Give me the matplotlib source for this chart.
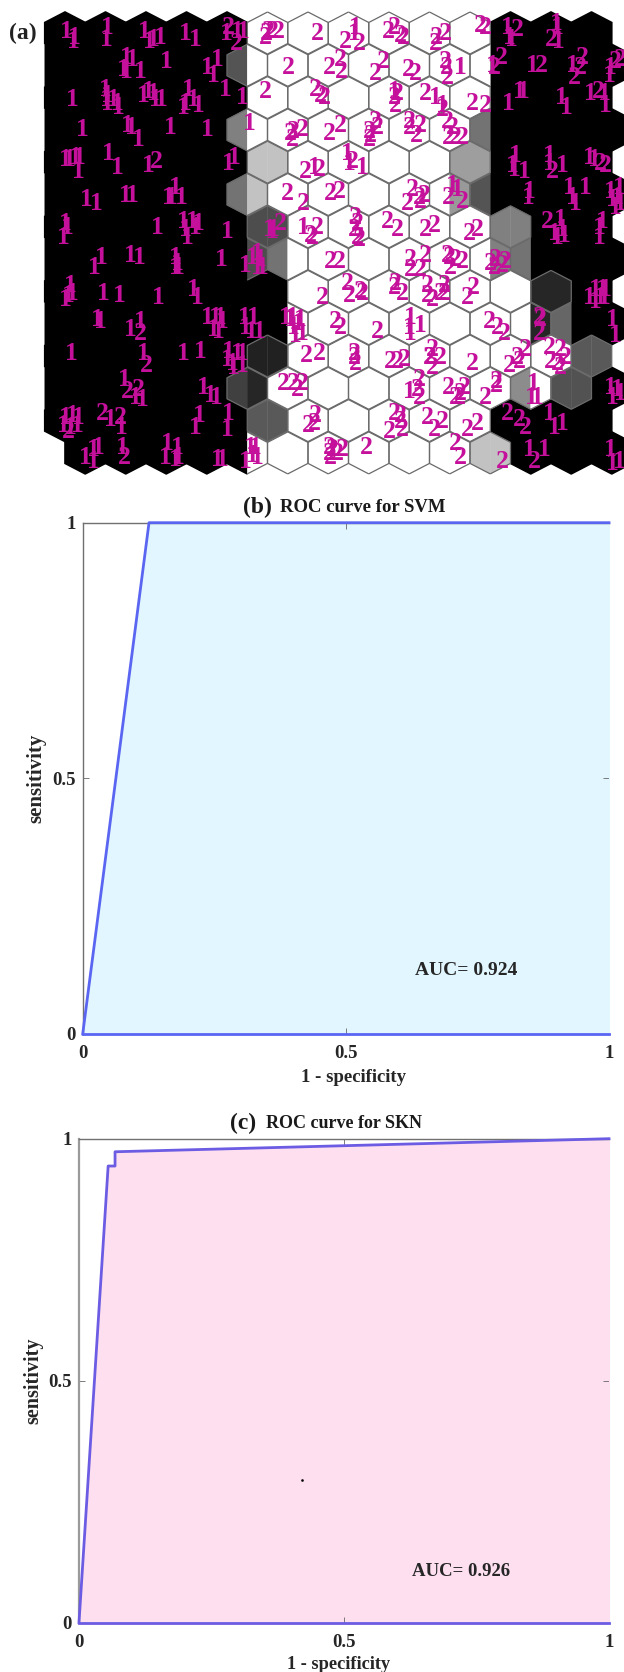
# -*- coding: utf-8 -*-
import numpy as np
import matplotlib
matplotlib.use("Agg")
from matplotlib import pyplot as plt

plt.rcParams['font.family'] = ['Liberation Serif', 'DejaVu Serif']

# SOM map (a): gray level of left / right half of every hexagon, row by row
B = 0.0
W = 1.0
left_half = [
    [B, B, B, B, B, W, W, W, W, W, W, B, B, B],
    [B, B, B, B, .33, W, W, W, W, W, W, B, B, B],
    [B, B, B, B, B, W, W, W, W, W, W, B, B, B],
    [B, B, B, B, .50, W, W, W, W, W, .45, B, B, B],
    [B, B, B, B, B, .76, W, W, W, W, .62, B, B, B],
    [B, B, B, B, .45, W, W, W, W, W, .33, B, B, B],
    [B, B, B, B, B, .30, W, W, W, W, W, .50, B, B],
    [B, B, B, B, B, .45, W, W, W, W, W, .45, B, B],
    [B, B, B, B, B, B, W, W, W, W, W, W, .15, B],
    [B, B, B, B, B, B, W, W, W, W, W, W, .40, B],
    [B, B, B, B, B, .13, W, W, W, W, W, W, W, .35],
    [B, B, B, B, .25, W, W, W, W, W, W, .55, .32, B],
    [B, B, B, B, B, .35, W, W, W, W, W, B, B, B],
    [B, B, B, B, B, W, W, W, W, W, .76, B, B, B],
]
right_half = [
    [B, B, B, B, B, W, W, W, W, W, W, B, B, B],
    [B, B, B, B, W, W, W, W, W, W, B, B, B, B],
    [B, B, B, B, B, W, W, W, W, W, W, B, B, B],
    [B, B, B, B, W, W, W, W, W, W, B, B, B, B],
    [B, B, B, B, B, .76, W, W, W, W, .62, B, B, B],
    [B, B, B, B, .76, W, W, W, W, .60, B, B, B, B],
    [B, B, B, B, B, .30, W, W, W, W, W, .50, B, B],
    [B, B, B, B, .30, W, W, W, W, W, .50, B, B, B],
    [B, B, B, B, B, B, W, W, W, W, W, W, .15, B],
    [B, B, B, B, B, W, W, W, W, W, W, .15, B, B],
    [B, B, B, B, B, .13, W, W, W, W, W, W, W, .35],
    [B, B, B, B, .15, W, W, W, W, W, W, W, .32, B],
    [B, B, B, B, B, .35, W, W, W, W, W, B, B, B],
    [B, B, B, B, W, W, W, W, W, W, .76, B, B, B],
]

# class labels on the map, position in image pixels
ones_xy = [
    (66,31),(74,37),(73,42),(107,28),(106,40),(144,32),(149,41),(153,39),(160,37),(185,33),(195,40),
    (226,33),(237,32),(243,31),(355,27),(354,33),(507,27),(509,38),(511,40),(556,23),(557,28),(558,42),
    (126,58),(132,59),(123,70),(126,71),(140,72),(166,61),(207,67),(217,60),(213,76),(460,68),(492,65),
    (532,65),(572,65),(610,67),(609,75),
    (72,100),(105,90),(107,95),(106,100),(107,103),(113,100),(117,103),(118,108),(143,95),(148,92),(153,93),
    (155,100),(161,100),(188,90),(185,103),(183,107),(193,100),(198,105),(225,89),(242,98),(394,92),(435,98),
    (442,105),(508,104),(519,92),(523,92),(561,98),(566,107),(590,93),(604,93),(605,106),
    (82,130),(127,126),(131,128),(138,140),(170,127),(207,129),(249,124),
    (65,160),(69,160),(75,157),(79,158),(78,172),(108,154),(117,168),(148,166),(228,163),(234,157),(314,167),
    (347,153),(349,163),(362,167),(515,155),(514,170),(524,172),(512,165),(549,155),(549,163),(562,166),
    (589,157),(594,160),
    (86,199),(96,204),(125,195),(132,196),(168,197),(171,197),(175,187),(181,197),(452,185),(457,190),
    (529,192),(528,197),(569,188),(572,197),(575,203),(585,187),(610,192),(612,200),(617,197),(619,187),
    (615,207),(620,203),
    (65,223),(67,228),(63,237),(157,228),(183,222),(185,230),(187,237),(192,222),(195,227),(198,223),(227,232),
    (269,230),(272,231),(273,230),(303,227),(554,233),(560,220),(557,237),(564,235),(562,230),(599,227),
    (602,222),(599,237),
    (101,257),(94,268),(130,255),(139,257),(175,257),(177,263),(175,268),(178,267),(221,259),(245,266),
    (252,257),(257,253),(257,268),(262,267),(260,260),
    (70,285),(65,300),(68,295),(72,293),(103,294),(119,295),(158,298),(193,289),(197,298),(595,290),(602,290),
    (605,290),(589,297),(595,302),(600,297),(604,297),
    (97,319),(100,321),(130,330),(140,322),(207,318),(215,318),(220,318),(213,330),(218,332),(222,322),
    (244,317),(253,318),(245,328),(251,332),(259,332),(285,318),(290,320),(293,327),(298,323),(300,320),
    (295,335),(302,333),(292,317),(410,318),(409,328),(410,333),(420,325),(612,320),(615,335),
    (71,354),(143,353),(183,354),(200,351),(228,352),(227,360),(232,363),(237,353),(242,353),(233,368),(242,365),
    (124,380),(135,397),(142,400),(203,388),(210,395),(216,397),(409,392),(533,384),(531,398),(537,398),
    (610,388),(612,397),(617,390),(620,393),
    (65,418),(72,415),(78,417),(63,425),(70,427),(77,425),(110,420),(121,427),(199,416),(195,428),(228,413),
    (227,430),(549,413),(554,428),(562,423),
    (85,457),(93,462),(98,447),(93,450),(122,448),(165,457),(167,443),(177,448),(178,457),(175,460),(217,460),
    (222,460),(245,462),(250,447),(255,447),(257,458),(252,455),(529,450),(544,450),(610,450),(612,463),(619,462),
]
twos_xy = [
    (228,28),(236,43),(266,33),(268,32),(272,32),(278,32),(265,38),(317,33),(345,42),(359,43),(388,32),(394,28),
    (400,35),(403,37),(436,37),(435,43),(445,33),(480,26),(485,27),(517,30),(551,40),
    (288,67),(329,68),(340,60),(341,72),(375,73),(383,61),(408,70),(415,74),(445,62),(446,68),(447,77),(494,68),
    (501,57),(541,66),(574,78),(582,58),(580,67),(615,62),(620,60),
    (265,92),(315,90),(320,95),(324,98),(394,97),(395,105),(397,93),(425,93),(442,110),(472,104),(485,105),(598,92),
    (290,133),(293,132),(302,130),(292,140),(329,133),(340,125),(369,132),(375,122),(377,128),(369,140),(370,135),
    (409,121),(409,128),(420,126),(416,136),(447,122),(452,127),(448,137),(455,138),(462,137),
    (156,162),(305,172),(319,170),(352,162),(552,172),(600,163),(605,165),
    (287,193),(303,203),(330,193),(339,191),(407,203),(412,190),(419,197),(424,195),(420,202),(448,197),(462,202),
    (280,223),(310,235),(317,228),(312,237),(355,217),(357,223),(354,230),(357,237),(359,240),(387,222),(397,230),
    (425,230),(434,225),(469,233),(477,230),(547,222),
    (330,262),(339,262),(410,260),(425,255),(410,270),(420,270),(449,258),(450,267),(455,260),(462,262),(447,255),
    (490,263),(495,260),(502,265),(494,268),(505,262),
    (322,298),(347,283),(349,295),(360,292),(362,293),(394,287),(402,293),(395,283),(427,285),(427,295),(432,300),
    (440,293),(444,285),(444,293),(467,298),(473,288),
    (140,333),(335,322),(340,327),(377,332),(489,322),(497,328),(504,333),(539,318),(539,333),(540,320),
    (146,365),(306,355),(319,353),(354,353),(354,358),(355,363),(390,362),(397,362),(404,360),(432,350),(429,357),
    (440,357),(432,367),(430,357),(472,364),(509,365),(517,357),(525,350),(519,362),(549,348),(560,350),(565,358),
    (557,363),(550,362),(560,367),
    (127,392),(138,390),(283,383),(293,383),(302,383),(297,390),(419,380),(419,398),(417,390),(448,388),(455,397),
    (464,387),(460,393),(459,398),(485,398),(496,382),(496,385),
    (68,432),(102,414),(120,417),(308,425),(315,415),(314,423),(389,432),(394,413),(400,415),(402,430),(400,422),
    (427,417),(434,430),(442,422),(467,430),(477,423),(507,413),(519,420),(525,428),
    (124,458),(329,447),(330,457),(337,453),(342,450),(332,450),(329,453),(366,447),(455,443),(460,458),(502,461),
    (534,462),
]

# ROC curves
svm_fpr = [0, 0.126, 1]
svm_tpr = [0, 1, 1]
skn_fpr = [0, 0.055, 0.068, 0.068, 1]
skn_tpr = [0, 0.9435, 0.9435, 0.973, 1]
ticks = [0, 0.5, 1]
tick_labels = ['0', '0.5', '1']

PW, PH = 624, 1672
fig = plt.figure(figsize=(PW / 100, PH / 100), dpi=100)

# map axes works in image pixels
ax = fig.add_axes([0, 0, 1, 1])
ax.set_xlim(0, PW)
ax.set_ylim(PH, 0)
ax.axis('off')

col_step = 40.5
row_step = 32.3
half_w = col_step / 2
half_h = 21.0
shoulder = 10.5
first_x = 65.0
first_y = 33.0
map_ink = '#C4109A'
edge_col = '#6a6a6a'


def half_hex(cx, cy, side, gray):
    xs = [cx, cx + side * half_w, cx + side * half_w, cx]
    ys = [cy - half_h, cy - shoulder, cy + shoulder, cy + half_h]
    if gray > 0:
        ax.fill(xs, ys, color=str(gray), lw=0.3, zorder=2)
        ax.plot(xs, ys, color=edge_col, lw=0.9, zorder=2.5, solid_capstyle='butt')
    else:
        # thick black edge hides the seams between black cells
        ax.fill(xs, ys, color='k', lw=1.2, zorder=1)


for r in range(len(left_half)):
    cy = first_y + r * row_step
    shift = half_w if r % 2 else 0
    for c in range(len(left_half[r])):
        cx = first_x + shift + c * col_step
        half_hex(cx, cy, -1, left_half[r][c])
        half_hex(cx, cy, 1, right_half[r][c])
    # odd rows also have a half cell on the left border
    if r % 2 and r < 13:
        half_hex(first_x - half_w + 0.6, cy, 1, 0.0)

for x, y in ones_xy:
    ax.text(x, y, '1', color=map_ink, fontsize=18.5, fontweight='bold', ha='center', va='center', zorder=3)
for x, y in twos_xy:
    ax.text(x, y, '2', color=map_ink, fontsize=18.5, fontweight='bold', ha='center', va='center', zorder=3)

ax.text(9, 33, '(a)', fontsize=17, fontweight='bold', color='#222222', va='center', zorder=3)


def roc_panel(box, fpr, tpr, fill_col, line_col, spine_col, spine_lw, auc, auc_xy, auc_fs, xl_fs, yl_fs, xl_pos):
    l, t, r, b = box
    a = fig.add_axes([l / PW, 1 - b / PH, (r - l) / PW, (b - t) / PH])
    a.patch.set_alpha(0)
    a.fill_between(fpr, tpr, 0, color=fill_col, lw=0)
    a.plot(fpr, tpr, color=line_col, lw=2.0, clip_on=False, zorder=4)
    a.plot([0, 1], [0, 0], color=line_col, lw=2.0, clip_on=False, zorder=4)
    a.set_xlim(0, 1)
    a.set_ylim(0, 1)
    a.set_xticks(ticks)
    a.set_yticks(ticks)
    a.set_xticklabels(tick_labels, fontsize=13.5, fontweight='bold', color='#262626')
    a.set_yticklabels(tick_labels, fontsize=13.5, fontweight='bold', color='#262626')
    a.tick_params(direction='in', length=4.5, width=0.6, color='#666666', top=True, right=True)
    a.tick_params(axis='x', pad=8)
    a.tick_params(axis='y', pad=5)
    a.set_xlabel('1 - specificity', fontsize=xl_fs, fontweight='bold', color='#262626')
    a.xaxis.set_label_coords(xl_pos[0], xl_pos[1])
    a.set_ylabel('sensitivity', fontsize=yl_fs, fontweight='bold', color='#262626', labelpad=4)
    a.spines['left'].set_color(spine_col)
    a.spines['left'].set_linewidth(spine_lw)
    a.spines['top'].set_color('#707070')
    a.spines['top'].set_linewidth(1.0)
    a.spines['right'].set_color(fill_col)
    a.spines['bottom'].set_color(line_col)
    a.text(auc_xy[0], auc_xy[1], auc, fontsize=auc_fs, fontweight='bold', color='#262626',
           ha='center', va='center')
    return a


ax_b = roc_panel((82.7, 522.7, 609, 1034), svm_fpr, svm_tpr, '#E1F6FE', '#5A66F2', '#707070', 1.0,
                 'AUC= 0.924', (0.729, 0.125), 14, 13.5, 15, (0.515, -0.068))
ax_c = roc_panel((79, 1138.7, 609, 1622.5), skn_fpr, skn_tpr, '#FDDFEF', '#6C5CE4', '#9a9a9a', 1.6,
                 'AUC= 0.926', (0.72, 0.105), 13.5, 13.2, 14.5, (0.49, -0.07))
ax_c.plot([0.42], [0.295], marker='s', ms=0.8, color='k', ls='none')

# panel captions: big letter + small title
ax.text(243, 507, '(b)', fontsize=17, fontweight='bold', color='#1a1a1a', va='center', zorder=5)
ax.text(280, 508, 'ROC curve for SVM', fontsize=13.5, fontweight='bold', color='#1a1a1a', va='center', zorder=5)
ax.text(230, 1123, '(c)', fontsize=17, fontweight='bold', color='#1a1a1a', va='center', zorder=5)
ax.text(266, 1124, 'ROC curve for SKN', fontsize=13, fontweight='bold', color='#1a1a1a', va='center', zorder=5)

fig.savefig('out.png', dpi=100)
